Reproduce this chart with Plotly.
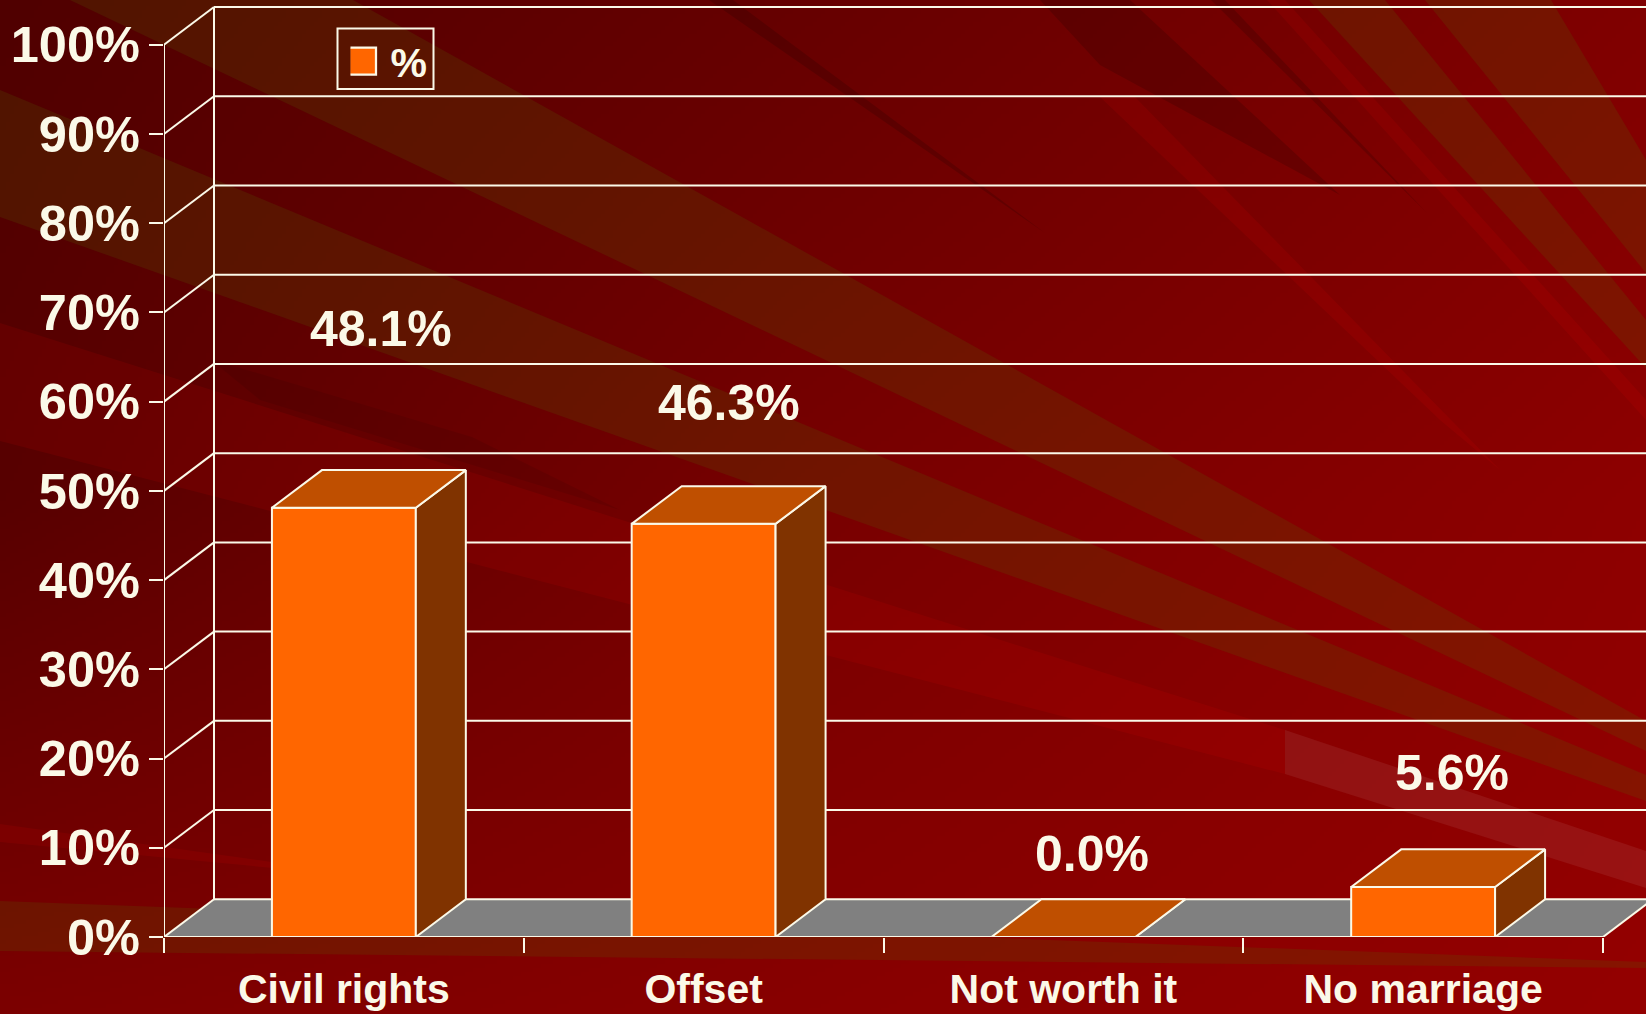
import base64, struct, zlib
import numpy as np
import plotly.graph_objects as go

# ---- data ----
categories = ["Civil rights", "Offset", "Not worth it", "No marriage"]
percent = [48.1, 46.3, 0.0, 5.6]
y_ticks = [0, 10, 20, 30, 40, 50, 60, 70, 80, 90, 100]
series_name = "%"

# ---- style / layout constants (label anchors are in axis units) ----
label_x = [0.604, 1.570, 2.580, 3.580]
label_y = [68.1, 59.8, 9.3, 18.35]
W, H = 1646, 1014
LEFT, ZERO_Y, PX_X, PX_Y = 164.0, 937.0, 359.75, 8.923
DX, DY = 50 / PX_X, 37.7 / PX_Y
BAR_W = 0.4
CREAM = "#FBF9E8"
LINE_W = 2
ORANGE, TOP, SIDE, FLOOR = "#FF6600", "#BF4F00", "#803300", "#808080"
FONT = "Liberation Sans"


def background_png():
    rows, cols = np.array([0, 500, 1014.0]), np.array([0, 800, 1646.0])
    grid = np.array([[0x50, 0x66, 0x80], [0x58, 0x78, 0x8E], [0x7C, 0x88, 0x94]], float)
    w, h = 412, 254
    xs, ys = np.linspace(0, W, w), np.linspace(0, H, h)
    by_col = np.array([np.interp(ys, rows, grid[:, j]) for j in range(3)])
    red = np.array([np.interp(xs, cols, by_col[:, i]) for i in range(h)]).astype(np.uint8)
    raw = b"".join(b"\x00" + np.dstack([r, r * 0, r * 0]).tobytes() for r in red)

    def chunk(t, d):
        return struct.pack(">I", len(d)) + t + d + struct.pack(">I", zlib.crc32(t + d))

    png = (b"\x89PNG\r\n\x1a\n" + chunk(b"IHDR", struct.pack(">IIBBBBB", w, h, 8, 2, 0, 0, 0))
           + chunk(b"IDAT", zlib.compress(raw)) + chunk(b"IEND", b""))
    return "data:image/png;base64," + base64.b64encode(png).decode()


def paper_x(px):
    return (px - LEFT) / (W - LEFT)


def paper_y(py):
    return (ZERO_Y - py) / ZERO_Y


OLIVE = "rgba(85,100,0,0.20)"
BRIGHT = "rgba(255,0,0,0.09)"
DARK = "rgba(0,0,0,0.15)"
SOFT_DARK = "rgba(0,0,0,0.08)"
PINK = "rgba(255,255,255,0.07)"
rays = [
    ([(353, 0), (1646, 721), (1646, 751), (70, 0)], OLIVE),
    ([(0, 90), (1646, 775), (1646, 801), (0, 217)], OLIVE),
    ([(0, 901), (1646, 962), (1646, 968), (0, 951)], OLIVE),
    ([(1309, 0), (1646, 368), (1646, 320), (1385, 0)], OLIVE),
    ([(1425, 0), (1646, 273), (1646, 160), (1551, 0)], OLIVE),
    ([(0, 323), (1285, 730), (1285, 774), (0, 441)], BRIGHT),
    ([(0, 824), (400, 880), (0, 842)], BRIGHT),
    ([(1267, 0), (1285, 0), (1646, 400), (1646, 420)], BRIGHT),
    ([(1100, 97), (1135, 97), (1500, 470), (1440, 420)], BRIGHT),
    ([(1211, 0), (1225, 0), (1427, 213)], DARK),
    ([(709, 0), (733, 0), (1045, 233)], DARK),
    ([(1040, 0), (1130, 0), (1340, 195), (1100, 65)], DARK),
    ([(210, 359), (472, 437), (620, 510), (260, 400)], SOFT_DARK),
    ([(1285, 730), (1646, 851), (1646, 888), (1285, 774)], PINK),
]
shapes = []
for pts, colour in rays:
    d = "M" + " L".join(f"{paper_x(x):.5f},{paper_y(y):.5f}" for x, y in pts) + " Z"
    shapes.append(dict(type="path", xref="paper", yref="paper", path=d, fillcolor=colour,
                       line_width=0, layer="below"))


def seg(x0, y0, x1, y1, width=LINE_W):
    return dict(type="line", xref="x", yref="y", x0=x0, y0=y0, x1=x1, y1=y1, layer="below",
                line=dict(color=CREAM, width=width))


n = len(categories)
xmax = (W - LEFT) / PX_X
# floor
shapes.append(dict(type="path", xref="x", yref="y", layer="below", fillcolor=FLOOR, line_width=0,
                   path=f"M0,0 L{n},0 L{n + DX},{DY} L{DX},{DY} Z"))
# walls
for v in y_ticks:
    shapes.append(seg(0, v, DX, v + DY))
    shapes.append(seg(DX, v + DY, xmax, v + DY))
shapes.append(seg(0, 0, 0, 100))
shapes.append(seg(DX, DY, DX, 100 + DY))
shapes.append(seg(0, 0, n, 0))
shapes.append(seg(n, 0, n + DX, DY))
# legend frame
shapes.append(dict(type="rect", xref="paper", yref="paper", x0=paper_x(337.5), x1=paper_x(433.5),
                   y0=paper_y(89), y1=paper_y(28.5), line=dict(color=CREAM, width=LINE_W)))

fig = go.Figure()
centres = [i + 0.5 for i in range(n)]
fig.add_trace(go.Bar(x=centres, y=percent, width=BAR_W, name=series_name, hoverinfo="x+y",
                     marker=dict(color=ORANGE, line=dict(color=CREAM, width=LINE_W))))

top_x, top_y, side_x, side_y = [], [], [], []
for c, v in zip(centres, percent):
    l, r = c - BAR_W / 2, c + BAR_W / 2
    top_x += [l, r, r + DX, l + DX, l, None]
    top_y += [v, v, v + DY, v + DY, v, None]
    side_x += [r, r + DX, r + DX, r, r, None]
    side_y += [0, DY, v + DY, v, 0, None]
for xs_, ys_, colour in ((side_x, side_y, SIDE), (top_x, top_y, TOP)):
    fig.add_trace(go.Scatter(x=xs_, y=ys_, mode="lines", fill="toself", fillcolor=colour,
                             line=dict(color=CREAM, width=LINE_W), showlegend=False, hoverinfo="skip"))

annotations = [dict(x=x, y=y, xref="x", yref="y", text=f"<b>{v:.1f}%</b>", showarrow=False,
                    font=dict(family=FONT, size=50, color=CREAM))
               for x, y, v in zip(label_x, label_y, percent)]

fig.update_layout(
    width=W, height=H, autosize=False,
    margin=dict(l=LEFT, r=0, t=0, b=H - ZERO_Y, pad=0),
    paper_bgcolor="#6a0000", plot_bgcolor="rgba(0,0,0,0)",
    barmode="overlay", shapes=shapes, annotations=annotations,
    images=[dict(source=background_png(), xref="paper", yref="paper", x=paper_x(0), y=paper_y(0),
                 sizex=W / (W - LEFT), sizey=H / ZERO_Y, sizing="stretch",
                 xanchor="left", yanchor="top", layer="below")],
    showlegend=True,
    legend=dict(x=paper_x(350.5), y=paper_y(28), xanchor="left", yanchor="top",
                borderwidth=0, bgcolor="rgba(0,0,0,0)",
                font=dict(family=FONT, size=41, color=CREAM, weight="bold")),
    xaxis=dict(range=[0, xmax], tickmode="array", tickvals=centres, ticktext=categories,
               ticks="", showgrid=False, zeroline=False, showline=False, ticklabelstandoff=24,
               tickfont=dict(family=FONT, size=41, color=CREAM, weight="bold"),
               minor=dict(tickmode="array", tickvals=list(range(n + 1)), ticks="outside",
                          ticklen=15, tickwidth=LINE_W, tickcolor=CREAM, showgrid=False)),
    yaxis=dict(range=[0, ZERO_Y / PX_Y], tickmode="array", tickvals=y_ticks,
               ticktext=[f"{v}%" for v in y_ticks], ticks="outside", ticklen=14, tickwidth=LINE_W,
               tickcolor=CREAM, showgrid=False, zeroline=False, showline=False,
               ticklabelstandoff=-1,
               tickfont=dict(family=FONT, size=50.5, color=CREAM, weight="bold")),
)
post = ("document.body.style.margin='0';document.body.style.overflow='hidden';"
        "var s=document.createElement('style');"
        "s.textContent='g.legend g.legendpoints path{transform:translate(12px,0px) scale(2.25);stroke-width:1px !important;}';"
        "document.head.appendChild(s);")
fig.write_html("out.html", post_script=post, config={"displayModeBar": False})
